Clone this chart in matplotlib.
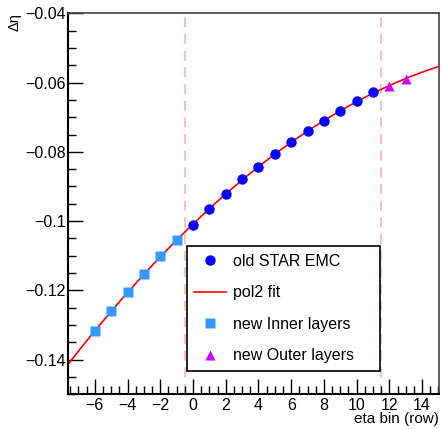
import numpy as np
import matplotlib
matplotlib.use("Agg")
import matplotlib.pyplot as plt
from matplotlib.ticker import MultipleLocator, FuncFormatter
from matplotlib.lines import Line2D

plt.rcParams['font.family'] = ['Liberation Sans', 'DejaVu Sans']

# Data
old_x = [0, 1, 2, 3, 4, 5, 6, 7, 8, 9, 10, 11]
old_y = [-0.1010, -0.0964, -0.0922, -0.0879, -0.0844, -0.0807,
         -0.0773, -0.0739, -0.0712, -0.0683, -0.0654, -0.0628]
inner_x = [-6, -5, -4, -3, -2, -1]
inner_y = [-0.1318, -0.1260, -0.1206, -0.1154, -0.1102, -0.1055]
outer_x = [12, 13]
outer_y = [-0.0609, -0.0589]
boundaries = [-0.5, 11.5]
xlim = (-7.62, 15.05)
ylim = (-0.15, -0.04)

fig = plt.figure(figsize=(4.42, 4.29), dpi=100)
ax = fig.add_axes([0.1545, 0.0809, 0.8394, 0.8881])

# pol2 fit to all points
all_x = np.array(inner_x + old_x + outer_x, dtype=float)
all_y = np.array(inner_y + old_y + outer_y, dtype=float)
coef = np.polyfit(all_x, all_y, 2)
xf = np.linspace(xlim[0], xlim[1], 300)
ax.plot(xf, np.polyval(coef, xf), color='red', lw=1.2, zorder=2)

for b in boundaries:
    ax.axvline(b, color='#ffb3b3', lw=1.2, ls=(0, (6, 4)), zorder=1)

ax.plot(old_x, old_y, 'o', color='#0000ff', ms=7.5, mec='none', zorder=3)
ax.plot(inner_x, inner_y, 's', color='#3399ff', ms=7.5, mec='none', zorder=3)
ax.plot(outer_x, outer_y, '^', color='#cc00ff', ms=7.5, mec='none', zorder=3)

ax.set_xlim(*xlim)
ax.set_ylim(*ylim)

ax.xaxis.set_major_locator(MultipleLocator(2))
ax.xaxis.set_minor_locator(MultipleLocator(0.5))
ax.yaxis.set_major_locator(MultipleLocator(0.02))
ax.yaxis.set_minor_locator(MultipleLocator(0.005))

def fmt_x(v, pos):
    s = f"{int(round(v))}"
    return s.replace('-', '\u2212')

def fmt_y(v, pos):
    s = f"{v:.2f}"
    if s.endswith('0'):
        s = s[:-1]
    return s.replace('-', '\u2212')

ax.xaxis.set_major_formatter(FuncFormatter(fmt_x))
ax.yaxis.set_major_formatter(FuncFormatter(fmt_y))

ax.tick_params(axis='both', which='major', direction='in', length=11, width=1,
               labelsize=11.5, top=False, right=False)
ax.tick_params(axis='both', which='minor', direction='in', length=5.5, width=1,
               top=False, right=False)
ax.tick_params(axis='x', pad=3)
ax.tick_params(axis='y', pad=2)

for s in ['left', 'bottom']:
    ax.spines[s].set_linewidth(1.5)
    ax.spines[s].set_color('black')
for s in ['top', 'right']:
    ax.spines[s].set_linewidth(1.2)
    ax.spines[s].set_color('#444444')

fig.text(0.033, 0.969, 'Δη', rotation=90, ha='center', va='top', fontsize=10.5)
fig.text(0.9939, 0.014, 'eta bin (row)', ha='right', va='baseline', fontsize=11)

handles = [
    Line2D([], [], marker='o', ls='none', color='#0000ff', ms=7.5, mec='none'),
    Line2D([], [], color='red', lw=1.2),
    Line2D([], [], marker='s', ls='none', color='#3399ff', ms=7.5, mec='none'),
    Line2D([], [], marker='^', ls='none', color='#cc00ff', ms=7.5, mec='none'),
]
labels = ['old STAR EMC', 'pol2 fit', 'new Inner layers', 'new Outer layers']
leg = ax.legend(handles, labels, loc='lower left',
                bbox_to_anchor=((186.7 - 68.3) / 371.0, (394.3 - 371.0) / 381.0,
                                (380.3 - 186.7) / 371.0, (371.0 - 245.7) / 381.0),
                mode='expand', fontsize=11.5, frameon=True, fancybox=False,
                edgecolor='black', framealpha=1, borderpad=0.47, labelspacing=1.04,
                handlelength=2.0, handletextpad=0.45, borderaxespad=0)
leg.get_frame().set_linewidth(1.2)
leg.set_zorder(5)

fig.savefig('out.png', dpi=100)
